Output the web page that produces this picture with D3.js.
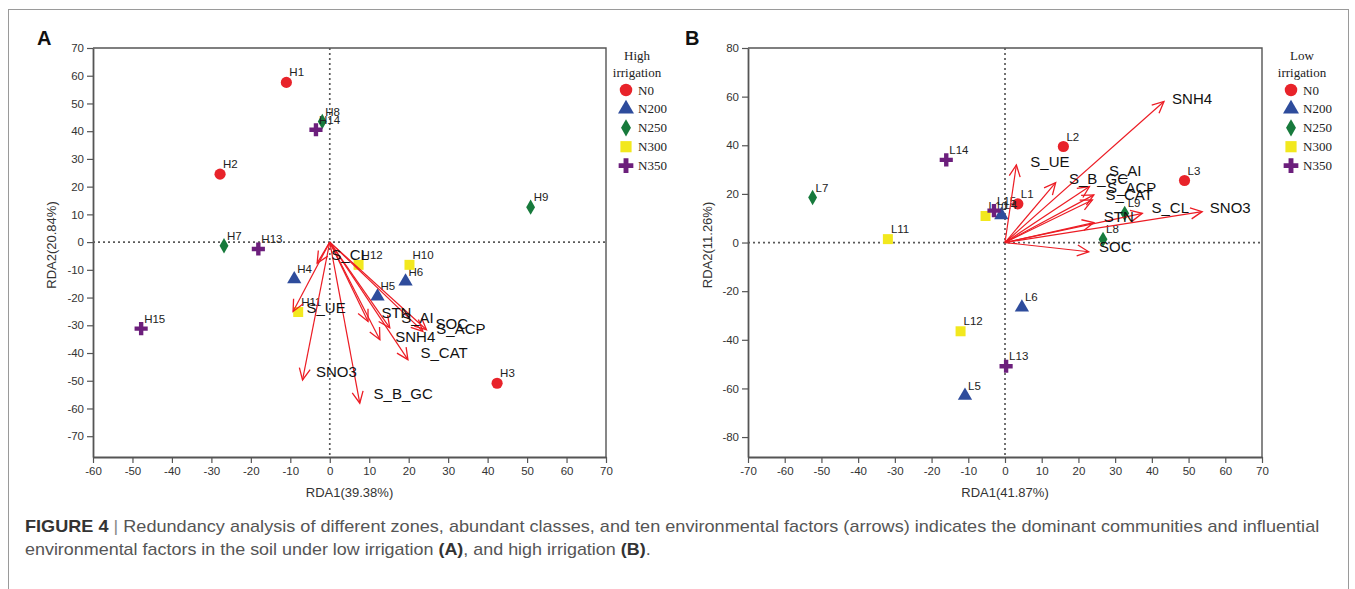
<!DOCTYPE html>
<html>
<head>
<meta charset="utf-8">
<script src="https://cdn.jsdelivr.net/npm/d3@7/dist/d3.min.js"></script>
<style>
  body { margin: 0; background: #fff; }
  svg { display: block; font-family: "Liberation Sans", Arial, sans-serif; }
</style>
</head>
<body>
<svg id="fig" width="1355" height="589"></svg>
<script>
// ---- data ----

const groups = ['N0', 'N200', 'N250', 'N300', 'N350'];

// panel A : high irrigation, site scores
const highSites = [
  { id: 'H1', n: 'N0', x: -11.0, y: 57.6 },
  { id: 'H2', n: 'N0', x: -27.8, y: 24.5 },
  { id: 'H3', n: 'N0', x: 42.4, y: -50.9 },
  { id: 'H4', n: 'N200', x: -9.0, y: -13.4 },
  { id: 'H5', n: 'N200', x: 12.1, y: -19.6 },
  { id: 'H6', n: 'N200', x: 19.2, y: -14.2 },
  { id: 'H7', n: 'N250', x: -26.8, y: -1.3 },
  { id: 'H8', n: 'N250', x: -1.9, y: 43.5 },
  { id: 'H9', n: 'N250', x: 50.9, y: 12.6 },
  { id: 'H10', n: 'N300', x: 20.2, y: -8.2 },
  { id: 'H11', n: 'N300', x: -8.0, y: -25.2 },
  { id: 'H12', n: 'N300', x: 7.3, y: -8.2 },
  { id: 'H13', n: 'N350', x: -18.1, y: -2.5 },
  { id: 'H14', n: 'N350', x: -3.5, y: 40.5 },
  { id: 'H15', n: 'N350', x: -47.8, y: -31.2 },
];

// panel A : environmental factors (arrow tip x,y and label lx,ly)
const highFactors = [
  { name: 'S_CL', x: -3.2, y: -7.6, lx: 0.4, ly: -4.5 },
  { name: 'S_UE', x: -9.3, y: -25.0, lx: -5.9, ly: -23.8 },
  { name: 'SNO3', x: -6.9, y: -49.7, lx: -3.5, ly: -46.7 },
  { name: 'S_B_GC', x: 7.6, y: -58.1, lx: 11.1, ly: -54.8 },
  { name: 'STN', x: 9.7, y: -28.6, lx: 13.1, ly: -25.6 },
  { name: 'SNH4', x: 12.7, y: -35.2, lx: 16.6, ly: -34.1 },
  { name: 'S_AI', x: 15.2, y: -30.9, lx: 18.1, ly: -27.4 },
  { name: 'S_CAT', x: 19.8, y: -42.4, lx: 23.0, ly: -39.8 },
  { name: 'SOC', x: 23.6, y: -32.2, lx: 26.8, ly: -29.5 },
  { name: 'S_ACP', x: 24.5, y: -31.6, lx: 27.0, ly: -31.1 },
];

// panel B : low irrigation, site scores
const lowSites = [
  { id: 'L1', n: 'N0', x: 3.5, y: 15.9 },
  { id: 'L2', n: 'N0', x: 15.9, y: 39.5 },
  { id: 'L3', n: 'N0', x: 48.9, y: 25.5 },
  { id: 'L4', n: 'N200', x: -1.0, y: 11.3 },
  { id: 'L5', n: 'N200', x: -10.9, y: -63.0 },
  { id: 'L6', n: 'N200', x: 4.6, y: -26.7 },
  { id: 'L7', n: 'N250', x: -52.4, y: 18.5 },
  { id: 'L8', n: 'N250', x: 26.7, y: 1.3 },
  { id: 'L9', n: 'N250', x: 32.6, y: 12.0 },
  { id: 'L10', n: 'N300', x: -5.3, y: 10.9 },
  { id: 'L11', n: 'N300', x: -31.9, y: 1.4 },
  { id: 'L12', n: 'N300', x: -12.1, y: -36.5 },
  { id: 'L13', n: 'N350', x: 0.3, y: -50.9 },
  { id: 'L14', n: 'N350', x: -16.0, y: 34.0 },
  { id: 'L15', n: 'N350', x: -3.0, y: 13.1 },
];

const lowFactors = [
  { name: 'SNH4', x: 43.3, y: 58.0, lx: 45.5, ly: 59.0 },
  { name: 'S_UE', x: 3.1, y: 31.9, lx: 6.9, ly: 33.3 },
  { name: 'S_B_GC', x: 13.8, y: 24.6, lx: 17.4, ly: 26.4 },
  { name: 'S_AI', x: 23.0, y: 23.0, lx: 28.3, ly: 29.6 },
  { name: 'S_ACP', x: 24.2, y: 19.6, lx: 27.8, ly: 22.7 },
  { name: 'S_CAT', x: 23.8, y: 17.5, lx: 27.4, ly: 19.6 },
  { name: 'S_CL', x: 37.4, y: 12.0, lx: 39.9, ly: 14.5 },
  { name: 'SNO3', x: 53.7, y: 12.7, lx: 55.8, ly: 14.5 },
  { name: 'STN', x: 24.2, y: 8.2, lx: 26.9, ly: 10.6 },
  { name: 'SOC', x: 22.8, y: -3.8, lx: 25.6, ly: -1.7 },
];

const highXTicks = [-60, -50, -40, -30, -20, -10, 0, 10, 20, 30, 40, 50, 60, 70];
const highYTicks = [70, 60, 50, 40, 30, 20, 10, 0, -10, -20, -30, -40, -50, -60, -70];
const lowXTicks = [-70, -60, -50, -40, -30, -20, -10, 0, 10, 20, 30, 40, 50, 60, 70];
const lowYTicks = [80, 60, 40, 20, 0, -20, -40, -60, -80];

const captionLine1 = 'Redundancy analysis of different zones, abundant classes, and ten environmental factors (arrows) indicates the dominant communities and influential';
const captionLine2 = 'environmental factors in the soil under low irrigation ';

// ---- styling ----

const groupColor = {
  N0: '#e8232a',
  N200: '#2e4c9c',
  N250: '#177a3c',
  N300: '#f2e81e',
  N350: '#6c1f7c',
};
const groupSymbol = {
  N0: { type: d3.symbolCircle, size: 98 },
  N200: { type: d3.symbolTriangle, size: 88 },
  N250: { type: d3.symbolDiamond, size: 68 },
  N300: { type: d3.symbolSquare, size: 100 },
  N350: { type: d3.symbolCross, size: 96 },
};
const arrowColor = '#ec1c24';

const svg = d3.select('#fig');

svg.append('rect')
  .attr('width', 1355).attr('height', 589)
  .attr('fill', '#fff');

// outer figure frame
svg.append('rect')
  .attr('x', 8.5).attr('y', 9.5)
  .attr('width', 1340).attr('height', 600)
  .attr('fill', 'none')
  .attr('stroke', '#9a9a9a')
  .attr('stroke-width', 1);

const defs = svg.append('defs');
defs.append('marker')
  .attr('id', 'vhead')
  .attr('viewBox', '-13 -8 15 16')
  .attr('refX', 0).attr('refY', 0)
  .attr('markerWidth', 15).attr('markerHeight', 16)
  .attr('markerUnits', 'userSpaceOnUse')
  .attr('orient', 'auto')
  .append('path')
  .attr('d', 'M-11.5,-5.5 L0,0 L-11.5,5.5')
  .attr('fill', 'none')
  .attr('stroke', arrowColor)
  .attr('stroke-width', 1.3);

function symbolPath(n, scale = 1) {
  const s = groupSymbol[n];
  return d3.symbol().type(s.type).size(s.size * scale)();
}

function drawPanel(cfg) {
  const { left, right, top, bottom } = cfg;

  const x = d3.scaleLinear().domain(cfg.xDomain).range([left, right]);
  const y = d3.scaleLinear().domain(cfg.yDomain).range([bottom, top]);

  const g = svg.append('g');

  // top and right frame
  g.append('path')
    .attr('d', `M${left},${top} H${right} V${bottom}`)
    .attr('fill', 'none')
    .attr('stroke', '#555')
    .attr('stroke-width', 1.4);

  const yAxis = d3.axisLeft(y).tickValues(cfg.yTicks).tickFormat(d => String(d))
    .tickSize(6).tickSizeOuter(0).tickPadding(3);
  const xAxis = d3.axisBottom(x).tickValues(cfg.xTicks).tickFormat(d => String(d))
    .tickSize(6).tickSizeOuter(0).tickPadding(4);

  const gy = g.append('g')
    .attr('transform', `translate(${left},0)`)
    .call(yAxis);
  const gx = g.append('g')
    .attr('transform', `translate(0,${bottom})`)
    .call(xAxis);

  [gx, gy].forEach(a => {
    a.select('.domain').attr('stroke', '#555').attr('stroke-width', 1.8);
    a.selectAll('.tick line').attr('stroke', '#555').attr('stroke-width', 1.2);
    a.selectAll('.tick text')
      .attr('fill', '#333')
      .style('font-size', '11.5px')
      .style('font-family', '"Liberation Sans", Arial, sans-serif');
  });

  // zero reference lines
  g.append('line')
    .attr('x1', x(0)).attr('x2', x(0))
    .attr('y1', top).attr('y2', bottom)
    .attr('stroke', '#5a5a5a').attr('stroke-width', 1.7)
    .attr('stroke-dasharray', '2,3');
  g.append('line')
    .attr('x1', left).attr('x2', right)
    .attr('y1', y(0)).attr('y2', y(0))
    .attr('stroke', '#5a5a5a').attr('stroke-width', 1.7)
    .attr('stroke-dasharray', '2,3');

  // axis titles
  g.append('text')
    .attr('x', (left + right) / 2)
    .attr('y', 497)
    .attr('text-anchor', 'middle')
    .attr('fill', '#333')
    .style('font-size', '13px')
    .text(cfg.xTitle);
  g.append('text')
    .attr('transform', `translate(${cfg.yTitleX},245) rotate(-90)`)
    .attr('text-anchor', 'middle')
    .attr('dy', '0.35em')
    .attr('fill', '#333')
    .style('font-size', '13px')
    .text(cfg.yTitle);

  // panel letter
  g.append('text')
    .attr('x', cfg.letterX).attr('y', 45)
    .attr('fill', '#111')
    .style('font-size', '20px')
    .style('font-weight', 'bold')
    .text(cfg.letter);

  // sites
  const site = g.selectAll('.site')
    .data(cfg.sites)
    .enter()
    .append('g')
    .attr('class', 'site')
    .attr('transform', d => `translate(${x(d.x)},${y(d.y)})`);

  site.append('path')
    .attr('d', d => symbolPath(d.n))
    .attr('fill', d => groupColor[d.n]);

  site.append('text')
    .attr('x', 3).attr('y', -10)
    .attr('dy', '0.35em')
    .attr('fill', '#222')
    .style('font-size', '11.5px')
    .text(d => d.id);

  // arrows
  g.selectAll('.arrow')
    .data(cfg.factors)
    .enter()
    .append('line')
    .attr('class', 'arrow')
    .attr('x1', x(0)).attr('y1', y(0))
    .attr('x2', d => x(d.x)).attr('y2', d => y(d.y))
    .attr('stroke', arrowColor)
    .attr('stroke-width', 1.2)
    .attr('marker-end', 'url(#vhead)');

  g.selectAll('.factor')
    .data(cfg.factors)
    .enter()
    .append('text')
    .attr('class', 'factor')
    .attr('x', d => x(d.lx))
    .attr('y', d => y(d.ly))
    .attr('dy', '0.35em')
    .attr('fill', '#111')
    .style('font-size', '15px')
    .text(d => d.name);

  // legend
  const lg = g.append('g');
  cfg.legendTitle.forEach((t, i) => {
    lg.append('text')
      .attr('x', cfg.legendTextX)
      .attr('y', 60 + i * 16.5)
      .attr('text-anchor', 'middle')
      .attr('fill', '#222')
      .style('font-family', '"Liberation Serif", "Times New Roman", serif')
      .style('font-size', '13px')
      .text(t);
  });
  const item = lg.selectAll('.item')
    .data(groups)
    .enter()
    .append('g')
    .attr('transform', (d, i) => `translate(${cfg.legendX},${90 + i * 18.9})`);
  item.append('path')
    .attr('d', d => symbolPath(d, 1.25))
    .attr('fill', d => groupColor[d]);
  item.append('text')
    .attr('x', 12)
    .attr('dy', '0.35em')
    .attr('fill', '#222')
    .style('font-family', '"Liberation Serif", "Times New Roman", serif')
    .style('font-size', '13px')
    .text(d => d);
}

drawPanel({
  letter: 'A', letterX: 37,
  left: 93, right: 606, top: 48, bottom: 457,
  xDomain: [-60, 70], yDomain: [-77.5, 70],
  xTicks: highXTicks, yTicks: highYTicks,
  xTitle: 'RDA1(39.38%)', yTitle: 'RDA2(20.84%)', yTitleX: 51,
  sites: highSites, factors: highFactors,
  legendTitle: ['High', 'irrigation'], legendX: 626, legendTextX: 637,
});

drawPanel({
  letter: 'B', letterX: 685,
  left: 748, right: 1262, top: 48, bottom: 457,
  xDomain: [-70, 70], yDomain: [-88.2, 80],
  xTicks: lowXTicks, yTicks: lowYTicks,
  xTitle: 'RDA1(41.87%)', yTitle: 'RDA2(11.26%)', yTitleX: 707,
  sites: lowSites, factors: lowFactors,
  legendTitle: ['Low', 'irrigation'], legendX: 1291, legendTextX: 1302,
});

// caption
function fitWidth(sel, target) {
  const w = sel.node().getBBox().width;
  const x0 = +sel.attr('x');
  sel.attr('transform', `translate(${x0},0) scale(${target / w},1) translate(${-x0},0)`);
}

const cap1 = svg.append('text')
  .attr('x', 25).attr('y', 532)
  .attr('fill', '#555')
  .style('font-size', '16px');
cap1.append('tspan').style('font-weight', 'bold').attr('fill', '#333').text('FIGURE 4');
cap1.append('tspan').attr('fill', '#888').text(' | ');
cap1.append('tspan').text(captionLine1);
fitWidth(cap1, 1295);

const cap2 = svg.append('text')
  .attr('x', 25).attr('y', 555)
  .attr('fill', '#555')
  .style('font-size', '16px');
cap2.append('tspan').text(captionLine2);
cap2.append('tspan').style('font-weight', 'bold').attr('fill', '#333').text('(A)');
cap2.append('tspan').text(', and high irrigation ');
cap2.append('tspan').style('font-weight', 'bold').attr('fill', '#333').text('(B)');
cap2.append('tspan').text('.');
fitWidth(cap2, 626);
</script>
</body>
</html>
